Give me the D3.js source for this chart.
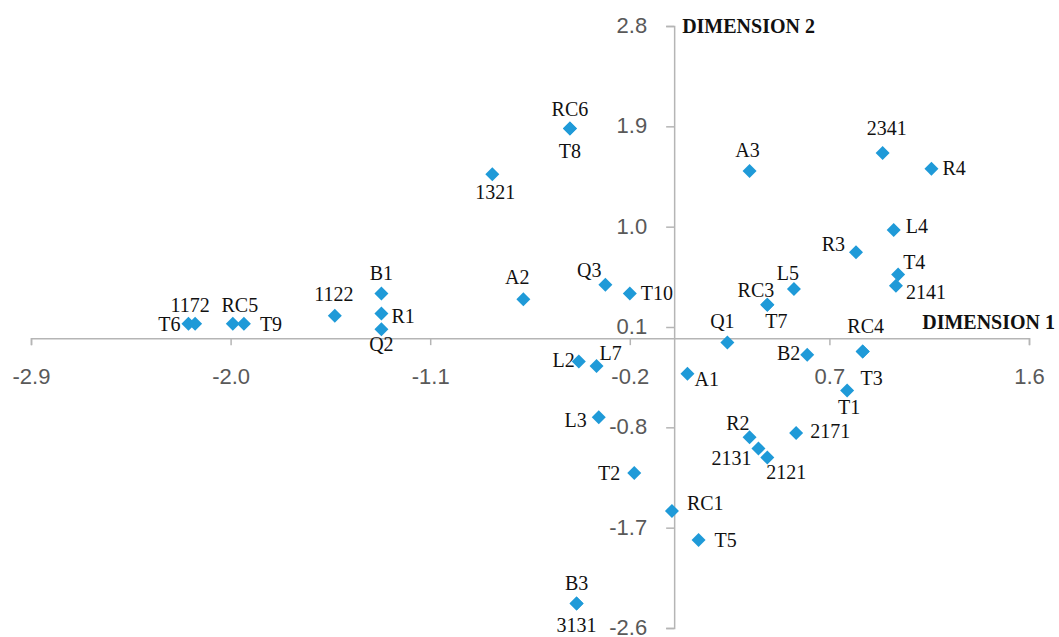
<!DOCTYPE html>
<html>
<head>
<meta charset="utf-8">
<script src="https://cdn.jsdelivr.net/npm/d3@7"></script>
<style>
    body { margin: 0; background: #fff; }
    .axis path, .axis line { stroke: #b5b5b5; stroke-width: 1.5px; }
    .axis text { font-family: "Liberation Sans", Arial, sans-serif; font-size: 22px; fill: #595959; }
    .pt-label { font-family: "Liberation Serif", "Times New Roman", serif; font-size: 20px; fill: #111; }
    .dim-title { font-family: "Liberation Serif", "Times New Roman", serif; font-size: 20px; font-weight: bold; fill: #111; }
</style>
</head>
<body>
<div id="chart-area"></div>
<script>
// Point names and their coordinates on the two dimensions
const pointNames = ['T6', '1172', 'RC5', 'T9', '1122', 'B1', 'R1', 'Q2', 'A2', 'Q3', 'T10', 'L2', 'L7',
    'A1', 'Q1', 'L5', 'RC3', 'T7', 'B2', 'RC4', 'T3', 'T1', 'T4', '2141', 'A3', '2341', 'R4', 'L4', 'R3',
    'RC6', 'T8', '1321', 'L3', 'T2', 'RC1', 'T5', 'R2', '2131', '2121', '2171', 'B3', '3131'];
const dim1Values = [-2.19, -2.16, -1.99, -1.94, -1.53, -1.32, -1.32, -1.32, -0.68, -0.31, -0.20, -0.43, -0.35,
    0.06, 0.24, 0.54, 0.42, 0.42, 0.60, 0.85, 0.85, 0.78, 1.01, 1.00, 0.34, 0.94, 1.16, 0.99, 0.82,
    -0.47, -0.47, -0.82, -0.34, -0.18, -0.01, 0.11, 0.34, 0.38, 0.42, 0.55, -0.44, -0.44];
const dim2Values = [0.13, 0.13, 0.13, 0.13, 0.20, 0.40, 0.22, 0.08, 0.35, 0.48, 0.40, -0.21, -0.25,
    -0.32, -0.04, 0.44, 0.30, 0.30, -0.15, -0.12, -0.12, -0.47, 0.57, 0.47, 1.50, 1.66, 1.52, 0.97, 0.77,
    1.88, 1.88, 1.47, -0.71, -1.21, -1.55, -1.81, -0.89, -0.99, -1.07, -0.85, -2.38, -2.38];

// Tick values of both axes
const xTicks = [-2.9, -2.0, -1.1, -0.2, 0.7, 1.6];
const yTicks = [-2.6, -1.7, -0.8, 0.1, 1.0, 1.9, 2.8];

// Where each label sits relative to its marker: [anchor, dx, dy]
const labelPos = {
    'T6': ['end', -8, 7], '1172': ['middle', -5, -12], 'RC5': ['middle', 7, -12], 'T9': ['start', 16, 7],
    '1122': ['middle', -1, -15], 'B1': ['middle', 0, -14], 'R1': ['start', 10, 9], 'Q2': ['middle', 0, 22],
    'A2': ['middle', -6, -15], 'Q3': ['end', -4, -8], 'T10': ['start', 11, 6], 'L2': ['end', -4, 5],
    'L7': ['start', 3, -6], 'A1': ['start', 7, 12], 'Q1': ['middle', -5, -15], 'L5': ['middle', -6, -9],
    'RC3': ['end', 7, -8], 'T7': ['middle', 9, 23], 'B2': ['end', -7, 5], 'RC4': ['middle', 3, -19],
    'T3': ['middle', 9, 33], 'T1': ['middle', 2, 23], 'T4': ['start', 5, -6], '2141': ['start', 10, 13],
    'A3': ['middle', -2, -14], '2341': ['middle', 4, -18], 'R4': ['start', 11, 6], 'L4': ['start', 12, 3],
    'R3': ['end', -11, -1], 'RC6': ['middle', 0, -13], 'T8': ['middle', 0, 29], '1321': ['middle', 3, 25],
    'L3': ['end', -12, 10], 'T2': ['end', -14, 7], 'RC1': ['start', 15, -1], 'T5': ['start', 16, 7],
    'R2': ['end', 0, -7], '2131': ['end', -7, 16], '2121': ['start', -1, 22], '2171': ['start', 14, 5],
    'B3': ['middle', 0, -13], '3131': ['middle', 0, 29]
};

const data = pointNames.map((name, i) => ({name: name, d1: dim1Values[i], d2: dim2Values[i]}));

const WIDTH = 1059;
const HEIGHT = 637;
const MARGIN = {LEFT: 31, RIGHT: 30, TOP: 26, BOTTOM: 9};

const svg = d3.select('#chart-area').append('svg')
    .attr('width', WIDTH)
    .attr('height', HEIGHT);

const xScale = d3.scaleLinear()
    .domain([xTicks[0], xTicks[xTicks.length - 1]])
    .range([MARGIN.LEFT, WIDTH - MARGIN.RIGHT]);

const yScale = d3.scaleLinear()
    .domain([yTicks[0], yTicks[yTicks.length - 1]])
    .range([HEIGHT - MARGIN.BOTTOM, MARGIN.TOP]);

// plain hyphen for negatives, like the original
const fmt = d => d.toFixed(1);

// X axis runs through y = 0
const xAxis = svg.append('g')
    .attr('class', 'x axis')
    .attr('transform', `translate(0,${yScale(0)})`)
    .call(d3.axisBottom(xScale).tickValues(xTicks).tickFormat(fmt).tickSize(7).tickSizeOuter(7));
xAxis.selectAll('text').attr('dy', 0).attr('y', 46);

// Y axis runs through x = 0
const yAxis = svg.append('g')
    .attr('class', 'y axis')
    .attr('transform', `translate(${xScale(0)},0)`)
    .call(d3.axisLeft(yScale).tickValues(yTicks).tickFormat(fmt).tickSize(8).tickSizeOuter(8));
yAxis.selectAll('text').attr('x', -27).attr('dy', '0.3em');

// Axis titles
svg.append('text')
    .attr('class', 'dim-title')
    .attr('x', xScale(0) + 8)
    .attr('y', yScale(yTicks[yTicks.length - 1]) + 7)
    .text('DIMENSION 2');

svg.append('text')
    .attr('class', 'dim-title')
    .attr('x', WIDTH - 4)
    .attr('y', yScale(0) - 9)
    .attr('text-anchor', 'end')
    .text('DIMENSION 1');

// Diamond markers
const diamond = d3.symbol().type(d3.symbolSquare).size(98);
svg.append('g').selectAll('path')
    .data(data)
    .enter()
    .append('path')
    .attr('d', diamond)
    .attr('transform', d => `translate(${xScale(d.d1)},${yScale(d.d2)}) rotate(45)`)
    .attr('fill', '#1f9ad8');

// Point labels
svg.append('g').selectAll('text')
    .data(data)
    .enter()
    .append('text')
    .attr('class', 'pt-label')
    .attr('x', d => xScale(d.d1) + labelPos[d.name][1])
    .attr('y', d => yScale(d.d2) + labelPos[d.name][2])
    .attr('text-anchor', d => labelPos[d.name][0])
    .text(d => d.name);
</script>
</body>
</html>
